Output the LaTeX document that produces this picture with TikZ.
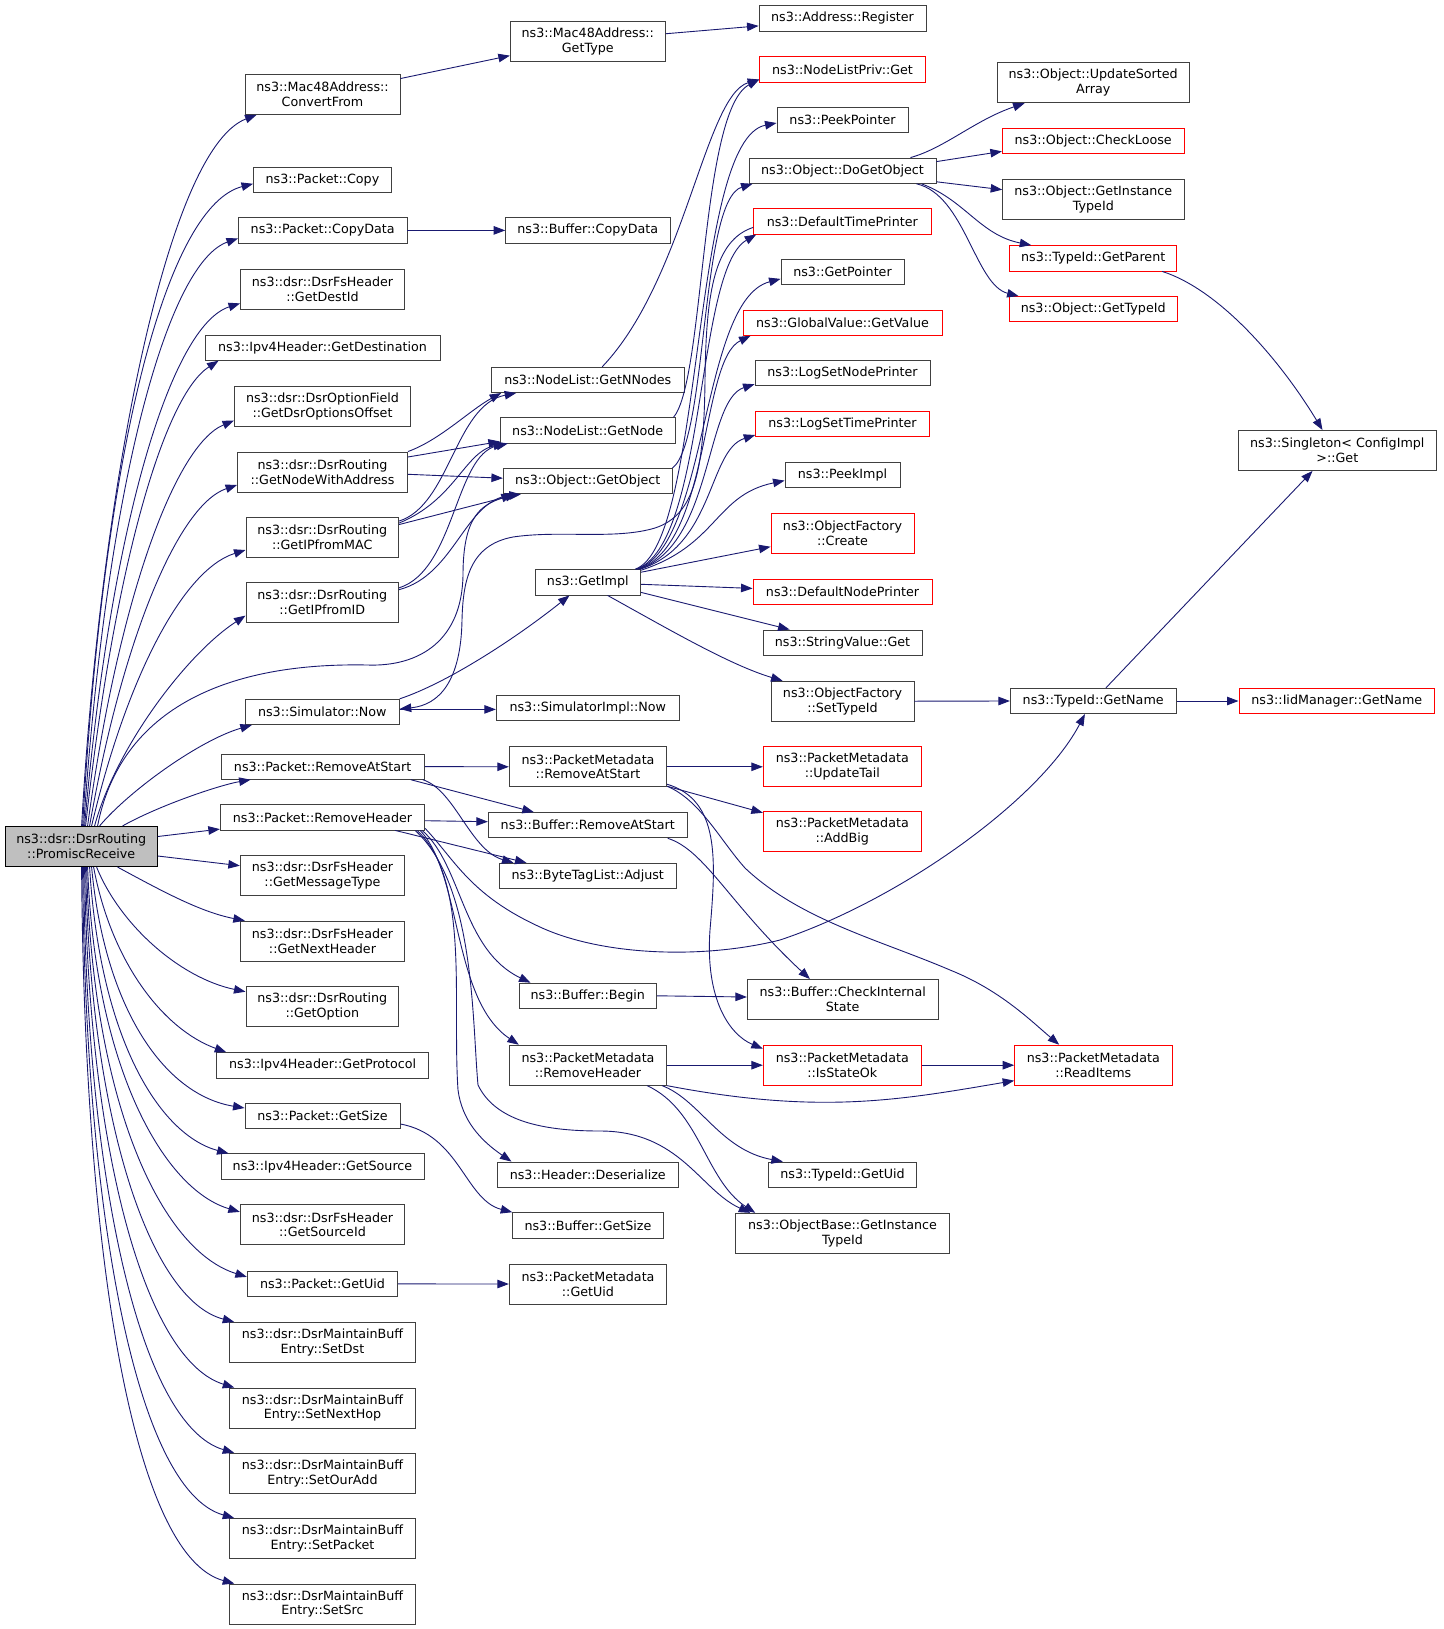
\documentclass[tikz,border=0pt]{standalone}
\usepackage{fontspec}
\setmainfont{DejaVu Sans}
\usetikzlibrary{arrows.meta,calc}
\definecolor{mblue}{HTML}{191970}
\newcommand\fsz{\fontsize{12.7}{14.7}\selectfont}
\newcommand\mknode[6]{\node[#1,minimum width=#4pt,minimum height=#5pt] (#2) at (#3) {#6};}
\tikzset{
  fn/.style={draw=black!75, line width=0.9pt, fill=white, inner sep=0pt, align=center, font=\fsz, text=black},
  rn/.style={fn, draw=red},
  rootn/.style={fn, draw=black, fill=black!25},
  edge/.style={draw=mblue, line width=0.9pt, -{Triangle[length=11.5pt,width=8.5pt]}},
}
\begin{document}
\begin{tikzpicture}[x=1pt,y=-1pt]
\useasboundingbox (0,0) rectangle (1443,1629);
% ---------- nodes ----------
\mknode{rootn}{PR}{81.2,846.5}{152.3}{40.3}{ns3::dsr::DsrRouting\\::PromiscReceive}
% column 1
\mknode{fn}{CF}{322.5,94.4}{155}{40}{ns3::Mac48Address::\\ConvertFrom}
\mknode{fn}{PC}{322.5,179.8}{138}{25.3}{ns3::Packet::Copy}
\mknode{fn}{PCD}{322.7,230.4}{168.5}{25.3}{ns3::Packet::CopyData}
\mknode{fn}{GDI}{322.5,289.4}{164}{40}{ns3::dsr::DsrFsHeader\\::GetDestId}
\mknode{fn}{GD}{322.5,347.6}{235}{25.3}{ns3::Ipv4Header::GetDestination}
\mknode{fn}{GDOO}{322.5,406.5}{176}{40}{ns3::dsr::DsrOptionField\\::GetDsrOptionsOffset}
\mknode{fn}{GNWA}{322.5,472}{170}{40}{ns3::dsr::DsrRouting\\::GetNodeWithAddress}
\mknode{fn}{GIM}{322.3,537}{152.7}{40}{ns3::dsr::DsrRouting\\::GetIPfromMAC}
\mknode{fn}{GIID}{322.3,602.6}{152.7}{40}{ns3::dsr::DsrRouting\\::GetIPfromID}
\mknode{fn}{SN}{322.3,711.9}{154}{25.3}{ns3::Simulator::Now}
\mknode{fn}{PRAS}{322.7,766.6}{203.3}{25.3}{ns3::Packet::RemoveAtStart}
\mknode{fn}{PRH}{322.5,817.3}{204.4}{25.3}{ns3::Packet::RemoveHeader}
\mknode{fn}{GMT}{322.5,875.7}{164.4}{40}{ns3::dsr::DsrFsHeader\\::GetMessageType}
\mknode{fn}{GNH}{322.5,941.1}{164.4}{40}{ns3::dsr::DsrFsHeader\\::GetNextHeader}
\mknode{fn}{GO}{322.3,1006.7}{152.7}{40}{ns3::dsr::DsrRouting\\::GetOption}
\mknode{fn}{GP}{322.7,1065.3}{212}{25.3}{ns3::Ipv4Header::GetProtocol}
\mknode{fn}{PGS}{322.5,1116}{155}{25.3}{ns3::Packet::GetSize}
\mknode{fn}{GS}{322.5,1166.5}{203}{25.3}{ns3::Ipv4Header::GetSource}
\mknode{fn}{GSI}{322.5,1224.9}{164.4}{40}{ns3::dsr::DsrFsHeader\\::GetSourceId}
\mknode{fn}{PGU}{322.5,1283.9}{150.4}{25.3}{ns3::Packet::GetUid}
\mknode{fn}{SD}{322.5,1342.4}{185.6}{40}{ns3::dsr::DsrMaintainBuff\\Entry::SetDst}
\mknode{fn}{SNH}{322.5,1408}{185.6}{40}{ns3::dsr::DsrMaintainBuff\\Entry::SetNextHop}
\mknode{fn}{SOA}{322.5,1473.3}{185.6}{40}{ns3::dsr::DsrMaintainBuff\\Entry::SetOurAdd}
\mknode{fn}{SP}{322.5,1538.5}{185.6}{40}{ns3::dsr::DsrMaintainBuff\\Entry::SetPacket}
\mknode{fn}{SS}{322.5,1604}{185.6}{40}{ns3::dsr::DsrMaintainBuff\\Entry::SetSrc}
% column 2
\mknode{fn}{GT}{587.8,41.2}{155}{40}{ns3::Mac48Address::\\GetType}
\mknode{fn}{BCD}{587.8,230.4}{164.3}{25.3}{ns3::Buffer::CopyData}
\mknode{fn}{GNN}{587.8,379.9}{192.3}{25.3}{ns3::NodeList::GetNNodes}
\mknode{fn}{GN}{587.7,430.4}{174.7}{25.3}{ns3::NodeList::GetNode}
\mknode{fn}{GOB}{587.7,481.2}{168.7}{25.3}{ns3::Object::GetObject}
\mknode{fn}{GI}{587.8,582.3}{105.7}{25.3}{ns3::GetImpl}
\mknode{fn}{SIN}{587.8,708}{183}{25.3}{ns3::SimulatorImpl::Now}
\mknode{fn}{PMRAS}{588,766.8}{157.4}{40}{ns3::PacketMetadata\\::RemoveAtStart}
\mknode{fn}{BRAS}{587.8,825.2}{199}{25.3}{ns3::Buffer::RemoveAtStart}
\mknode{fn}{BTA}{587.8,875.9}{177.7}{25.3}{ns3::ByteTagList::Adjust}
\mknode{fn}{BB}{587.8,995.8}{137.7}{25.3}{ns3::Buffer::Begin}
\mknode{fn}{PMRH}{588,1065.2}{157.4}{40}{ns3::PacketMetadata\\::RemoveHeader}
\mknode{fn}{HD}{587.8,1174.7}{181.7}{25.3}{ns3::Header::Deserialize}
\mknode{fn}{BGS}{588,1225.3}{150.6}{25.3}{ns3::Buffer::GetSize}
\mknode{fn}{PMGU}{588,1284}{157.4}{40}{ns3::PacketMetadata\\::GetUid}
% column 3
\mknode{fn}{AR}{842.5,18.4}{167}{25.3}{ns3::Address::Register}
\mknode{rn}{NLPG}{842.5,69.5}{165.6}{25.3}{ns3::NodeListPriv::Get}
\mknode{fn}{PP}{842.5,120}{131}{25.3}{ns3::PeekPointer}
\mknode{fn}{DGO}{842.5,170.7}{187}{25.3}{ns3::Object::DoGetObject}
\mknode{rn}{DTP}{842.3,221.4}{177.3}{25.3}{ns3::DefaultTimePrinter}
\mknode{fn}{GPtr}{842.5,271.9}{123}{25.3}{ns3::GetPointer}
\mknode{rn}{GVGV}{842.5,322.7}{199}{25.3}{ns3::GlobalValue::GetValue}
\mknode{fn}{LSNP}{842.5,373.2}{175}{25.3}{ns3::LogSetNodePrinter}
\mknode{rn}{LSTP}{842.5,424}{173.6}{25.3}{ns3::LogSetTimePrinter}
\mknode{fn}{PI}{842.5,474.6}{115}{25.3}{ns3::PeekImpl}
\mknode{rn}{OFC}{842.5,533.3}{143}{40}{ns3::ObjectFactory\\::Create}
\mknode{rn}{DNP}{842.5,592.1}{179}{25.3}{ns3::DefaultNodePrinter}
\mknode{fn}{SVG}{842.5,642.6}{159}{25.3}{ns3::StringValue::Get}
\mknode{fn}{OFST}{842.5,701.2}{143}{40}{ns3::ObjectFactory\\::SetTypeId}
\mknode{rn}{PMUT}{842.3,766.8}{158}{40}{ns3::PacketMetadata\\::UpdateTail}
\mknode{rn}{PMAB}{842.3,831.7}{158}{40}{ns3::PacketMetadata\\::AddBig}
\mknode{fn}{BCIS}{842.7,999.5}{190.7}{40}{ns3::Buffer::CheckInternal\\State}
\mknode{rn}{ISOK}{842.3,1065.2}{158}{40}{ns3::PacketMetadata\\::IsStateOk}
\mknode{fn}{TGU}{842.5,1174.7}{148.4}{25.3}{ns3::TypeId::GetUid}
\mknode{fn}{OBGIT}{842.5,1233.3}{213.6}{40}{ns3::ObjectBase::GetInstance\\TypeId}
% column 4
\mknode{fn}{USA}{1093.2,82.8}{192.3}{40}{ns3::Object::UpdateSorted\\Array}
\mknode{rn}{CL}{1093.2,141.3}{181.7}{25.3}{ns3::Object::CheckLoose}
\mknode{fn}{OGIT}{1093.3,199.7}{181.3}{40}{ns3::Object::GetInstance\\TypeId}
\mknode{rn}{TGP}{1093.2,258.3}{167}{25.3}{ns3::TypeId::GetParent}
\mknode{rn}{OGTI}{1093.2,309.2}{168.3}{25.3}{ns3::Object::GetTypeId}
\mknode{fn}{TGN}{1093.2,701}{165.7}{25.3}{ns3::TypeId::GetName}
\mknode{rn}{RI}{1093.3,1065.2}{157.3}{40}{ns3::PacketMetadata\\::ReadItems}
% column 5
\mknode{fn}{SCG}{1337.3,450.5}{198.7}{40}{ns3::Singleton< ConfigImpl\\>::Get}
\mknode{rn}{IMGN}{1336.8,701}{195.7}{25.3}{ns3::IidManager::GetName}
% ---------- edges from PromiscReceive ----------
\draw[edge] ($(PR.north west)+(77,0)$) .. controls (100,500) and (165,150) .. ($(CF.south west)+(12,0)$);
\draw[edge] ($(PR.north west)+(78,0)$) .. controls (105,430) and (170,205) .. ($(PC.west)+(0,4)$);
\draw[edge] ($(PR.north west)+(79,0)$) .. controls (108,470) and (170,262) .. ($(PCD.west)+(0,8)$);
\draw[edge] ($(PR.north west)+(80,0)$) .. controls (111,520) and (172,325) .. ($(GDI.west)+(0,14)$);
\draw[edge] ($(PR.north west)+(81,0)$) .. controls (115,560) and (165,395) .. ($(GD.south west)+(14,0)$);
\draw[edge] ($(PR.north west)+(83,0)$) .. controls (118,600) and (175,445) .. ($(GDOO.west)+(0,14)$);
\draw[edge] ($(PR.north west)+(85,0)$) .. controls (122,640) and (178,505) .. ($(GNWA.west)+(0,13)$);
\draw[edge] ($(PR.north west)+(87,0)$) .. controls (126,680) and (182,570) .. ($(GIM.west)+(0,13)$);
\draw[edge] ($(PR.north west)+(90,0)$) .. controls (115,750) and (185,655) .. ($(GIID.west)+(0,13)$);
\draw[edge] ($(PR.north west)+(93,0)$) .. controls (118,720) and (210,662) .. (367,665) .. controls (420,667) and (462,640) .. (463,575) .. controls (463,515) and (482,505) .. ($(GOB.south west)+(10,0)$);
\draw[edge] ($(PR.north west)+(95,0)$) .. controls (130,790) and (200,740) .. ($(SN.south west)+(7,0)$);
\draw[edge] ($(PR.north west)+(118,0)$) .. controls (160,805) and (220,785) .. ($(PRAS.south west)+(30,0)$);
\draw[edge] ($(PR.north east)+(0,10.6)$) -- ($(PRH.south west)+(0,-1.3)$);
\draw[edge] ($(PR.east)+(0,9.5)$) -- ($(GMT.west)+(0,-10)$);
\draw[edge] ($(PR.south west)+(113,0)$) .. controls (160,890) and (200,912) .. ($(GNH.north west)+(5,0)$);
\draw[edge] ($(PR.south west)+(92,0)$) .. controls (120,925) and (180,978) .. ($(GO.west)+(0,-15)$);
\draw[edge] ($(PR.south west)+(89,0)$) .. controls (112,965) and (165,1030) .. ($(GP.north west)+(10,0)$);
\draw[edge] ($(PR.south west)+(87,0)$) .. controls (105,1010) and (165,1095) .. ($(PGS.west)+(0,-8)$);
\draw[edge] ($(PR.south west)+(85,0)$) .. controls (100,1040) and (160,1135) .. ($(GS.north west)+(8,0)$);
\draw[edge] ($(PR.south west)+(83,0)$) .. controls (95,1070) and (165,1190) .. ($(GSI.west)+(0,-13)$);
\draw[edge] ($(PR.south west)+(82,0)$) .. controls (92,1100) and (160,1250) .. ($(PGU.west)+(0,-7)$);
\draw[edge] ($(PR.south west)+(81,0)$) .. controls (90,1120) and (150,1300) .. ($(SD.north west)+(5,0)$);
\draw[edge] ($(PR.south west)+(80,0)$) .. controls (88,1150) and (145,1360) .. ($(SNH.north west)+(5,0)$);
\draw[edge] ($(PR.south west)+(79,0)$) .. controls (86,1180) and (140,1425) .. ($(SOA.north west)+(5,0)$);
\draw[edge] ($(PR.south west)+(78,0)$) .. controls (85,1210) and (135,1490) .. ($(SP.north west)+(5,0)$);
\draw[edge] ($(PR.south west)+(77,0)$) .. controls (84,1240) and (130,1555) .. ($(SS.north west)+(5,0)$);
% ---------- other edges ----------
\draw[edge] ($(CF.north east)+(0,4.6)$) -- ($(GT.south west)+(0,-6)$);
\draw[edge] ($(GT.north east)+(0,13)$) -- ($(AR.west)+(0,7.5)$);
\draw[edge] (PCD.east) -- (BCD.west);
\draw[edge] (GNWA.north east) .. controls (440,440) and (470,410) .. ($(GNN.south west)+(10,0)$);
\draw[edge] ($(GNWA.east)+(0,-15)$) -- ($(GN.south west)+(0,-2)$);
\draw[edge] ($(GNWA.east)+(0,2.3)$) -- ($(GOB.west)+(0,-3)$);
\draw[edge] ($(GIM.north east)+(0,4.5)$) .. controls (450,505) and (455,405) .. ($(GNN.south west)+(25,0)$);
\draw[edge] ($(GIM.north east)+(0,6.5)$) .. controls (455,500) and (465,452) .. ($(GN.south west)+(5,0)$);
\draw[edge] ($(GIM.north east)+(0,8)$) -- ($(GOB.south west)+(14,0)$);
\draw[edge] ($(GIID.north east)+(0,5.7)$) .. controls (455,570) and (455,455) .. ($(GN.south west)+(8,0)$);
\draw[edge] ($(GIID.north east)+(0,7.5)$) .. controls (455,575) and (465,500) .. ($(GOB.south west)+(18,0)$);
\draw[edge] ($(GNN.north west)+(111,0)$) .. controls (685,280) and (705,95) .. ($(NLPG.west)+(0,10)$);
\draw[edge] ($(GN.north east)+(-2,0)$) .. controls (705,380) and (700,110) .. ($(NLPG.west)+(0,10)$);
\draw[edge] (GOB.north east) .. controls (708,440) and (700,200) .. ($(DGO.south west)+(4,0)$);
% GetImpl bundle
\draw[edge] ($(GI.north east)+(-6,0)$) .. controls (705,545) and (690,140) .. ($(PP.west)+(0,3)$);
\draw[edge] ($(GI.north east)+(-5,0)$) .. controls (707,545) and (695,270) .. ($(DTP.south west)+(3,0)$);
\draw[edge] ($(GI.north east)+(-4,0)$) .. controls (709,545) and (700,300) .. ($(GPtr.west)+(0,7)$);
\draw[edge] ($(GI.north east)+(-3,0)$) .. controls (711,545) and (700,360) .. ($(GVGV.south west)+(8,0)$);
\draw[edge] ($(GI.north east)+(-2,0)$) .. controls (713,545) and (705,400) .. ($(LSNP.west)+(0,11)$);
\draw[edge] ($(GI.north east)+(-1,0)$) .. controls (715,545) and (708,450) .. ($(LSTP.west)+(0,11)$);
\draw[edge] ($(GI.north east)+(0,1)$) .. controls (718,545) and (715,495) .. ($(PI.west)+(0,6)$);
\draw[edge] ($(GI.north east)+(0,3)$) -- ($(OFC.south west)+(0,-7)$);
\draw[edge] ($(GI.east)+(0,2)$) -- ($(DNP.west)+(0,-3.7)$);
\draw[edge] ($(GI.south east)+(0,-3)$) -- ($(SVG.north west)+(27,0)$);
\draw[edge] ($(GI.south west)+(73,0)$) .. controls (670,630) and (730,665) .. ($(OFST.north west)+(12,0)$);
% back edge DefaultTimePrinter -> Simulator::Now
\draw[edge] ($(DTP.west)+(0,6)$) .. controls (715,240) and (706,290) .. (705,380) .. controls (704,470) and (695,515) .. (655,528) .. controls (615,540) and (560,530) .. (513,537) .. controls (470,545) and (463,580) .. (462,620) .. controls (461,680) and (440,705) .. ($(SN.east)+(0,-3)$);
\draw[edge] (SN.north east) .. controls (450,682) and (520,635) .. ($(GI.south west)+(35,0)$);
\draw[edge] ($(SN.east)+(0,-2.5)$) -- ($(SIN.west)+(0,1.4)$);
% packet removal
\draw[edge] (PRAS.east) -- (PMRAS.west);
\draw[edge] ($(PRAS.south east)+(-14,0)$) -- ($(BRAS.north west)+(46,0)$);
\draw[edge] ($(PRAS.south east)+(-2,0)$) .. controls (455,790) and (470,850) .. ($(BTA.north west)+(15,0)$);
\draw[edge] ($(PRH.east)+(0,3.4)$) -- ($(BRAS.west)+(0,-3.5)$);
\draw[edge] ($(PRH.south east)+(-30,0)$) -- ($(BTA.north west)+(28,0)$);
\draw[edge] ($(PRH.south east)+(0,-2)$) .. controls (455,860) and (470,895) .. (540,927) .. controls (600,955) and (700,960) .. (780,940) .. controls (900,900) and (1040,800) .. ($(TGN.south west)+(75,0)$);
\draw[edge] ($(PRH.south east)+(-3,0)$) .. controls (462,865) and (462,950) .. ($(BB.north west)+(12,0)$);
\draw[edge] ($(PRH.south east)+(-5,0)$) .. controls (462,875) and (452,1000) .. ($(PMRH.north west)+(10,0)$);
\draw[edge] ($(PRH.south east)+(-8,0)$) .. controls (470,880) and (452,1000) .. (458,1090) .. controls (462,1120) and (480,1140) .. ($(HD.north west)+(15,0)$);
\draw[edge] ($(PRH.south east)+(-10,0)$) .. controls (475,885) and (472,1020) .. (478,1085) .. controls (495,1120) and (540,1131) .. (600,1131) .. controls (680,1131) and (700,1190) .. ($(OBGIT.north west)+(15,0)$);
\draw[edge] (PMRAS.east) -- (PMUT.west);
\draw[edge] ($(PMRAS.south east)+(0,-1)$) -- ($(PMAB.north west)+(0,1.5)$);
\draw[edge] ($(PMRAS.south east)+(0,-3)$) .. controls (720,800) and (716,860) .. (710,930) .. controls (705,1000) and (730,1035) .. ($(ISOK.north west)+(0,4)$);
\draw[edge] ($(PMRAS.south east)+(0,-1)$) .. controls (700,800) and (720,840) .. (745,868) .. controls (800,920) and (880,940) .. (950,970) .. controls (1000,990) and (1030,1020) .. ($(RI.north west)+(45,0)$);
\draw[edge] ($(BRAS.south east)+(-20,0)$) .. controls (705,850) and (730,905) .. ($(BCIS.north west)+(63,0)$);
\draw[edge] (BB.east) -- ($(BCIS.west)+(0,-2.5)$);
\draw[edge] (PMRH.east) -- (ISOK.west);
\draw[edge] (PMRH.south east) .. controls (820,1115) and (900,1100) .. ($(RI.south west)+(0,-5)$);
\draw[edge] ($(PMRH.south east)+(-5,0)$) .. controls (700,1100) and (720,1150) .. ($(TGU.north west)+(15,0)$);
\draw[edge] ($(PMRH.south east)+(-20,0)$) .. controls (700,1110) and (705,1180) .. ($(OBGIT.north west)+(20,0)$);
\draw[edge] (ISOK.east) -- (RI.west);
\draw[edge] ($(PGS.east)+(0,8)$) .. controls (460,1135) and (465,1200) .. (BGS.north west);
\draw[edge] (PGU.east) -- (PMGU.west);
% type id
\draw[edge] (OFST.east) -- (TGN.west);
\draw[edge] (TGN.east) -- (IMGN.west);
\draw[edge] ($(TGN.north west)+(96,0)$) -- ($(SCG.south west)+(75,0)$);
\draw[edge] ($(TGP.south east)+(-15,0)$) .. controls (1220,290) and (1280,360) .. ($(SCG.north west)+(85,0)$);
\draw[edge] ($(DGO.north east)+(-26,0)$) .. controls (945,148) and (975,120) .. ($(USA.south west)+(28,0)$);
\draw[edge] ($(DGO.north east)+(0,4)$) -- ($(CL.south west)+(0,-3)$);
\draw[edge] ($(DGO.south east)+(0,-2)$) -- ($(OGIT.west)+(0,-10)$);
\draw[edge] ($(DGO.south east)+(-15,0)$) .. controls (965,200) and (980,235) .. ($(TGP.north west)+(22,0)$);
\draw[edge] ($(DGO.south east)+(-20,0)$) .. controls (965,195) and (975,285) .. ($(OGTI.north west)+(10,0)$);
\end{tikzpicture}
\end{document}
